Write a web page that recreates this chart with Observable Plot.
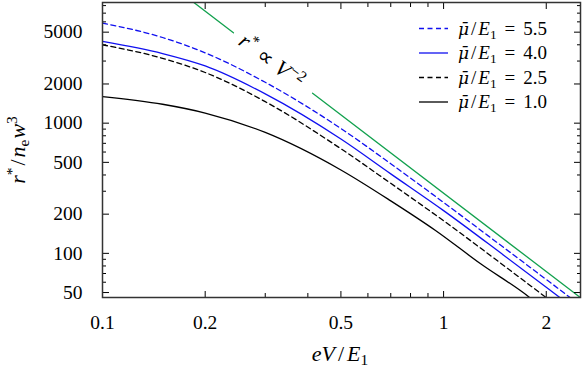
<!DOCTYPE html>
<html><head><meta charset="utf-8">
<script src="https://cdn.jsdelivr.net/npm/d3@7"></script>
<script src="https://cdn.jsdelivr.net/npm/@observablehq/plot@0.6"></script>
<style>body{margin:0;background:#fff}</style>
</head><body><div id="chart"></div>
<script>
// ---- data ----
const seriesNames = ["5.5", "4.0", "2.5", "1.0"];
const x55 = [0.1, 0.15, 0.2, 0.3, 0.5, 0.7, 1.0, 1.5, 2.0, 2.52];
const y55 = [5870, 4550, 3470, 2060, 910, 488, 246, 111, 63, 39.8];
const x40 = [0.1, 0.15, 0.2, 0.3, 0.5, 0.7, 1.0, 1.5, 2.0, 2.52];
const y40 = [4242, 3424, 2750, 1678, 755, 408, 213, 96.8, 54.9, 34.7];
const x25 = [0.1, 0.15, 0.2, 0.3, 0.5, 0.7, 1.0, 1.5, 2.0, 2.52];
const y25 = [4000, 3147, 2450, 1463, 636, 345, 178, 80.7, 45.7, 28.9];
const x10 = [0.1, 0.15, 0.2, 0.3, 0.5, 0.7, 0.947, 1.284, 1.787, 2.0];
const y10 = [1600, 1397, 1196, 849, 437, 253, 149.8, 83.1, 45.8, 35.8];
// r* ∝ V^-2 guide line (two pieces, gap for the label)
const guideX = [0.15, 0.242, 0.413, 2.6];
const guideY = [12900, 4950, 1700, 42.9];
const guideSeg = [1, 1, 2, 2];
const guideLabelX = 0.315, guideLabelY = 3000;
// ticks
const xMajor = [0.1, 0.2, 0.5, 1, 2];
const xMinor = [0.3, 0.4, 0.6, 0.7, 0.8, 0.9];
const yMajor = [50, 100, 200, 500, 1000, 2000, 5000];
const yMinor = [60, 70, 80, 90, 300, 400, 600, 700, 800, 900, 3000, 4000, 6000, 7000, 8000];

const styles = {
  "5.5": {stroke: "#1010f0", dash: "5,3.5"},
  "4.0": {stroke: "#1010f0", dash: null},
  "2.5": {stroke: "#000", dash: "5,3.5"},
  "1.0": {stroke: "#000", dash: null}
};
const xs = {"5.5": x55, "4.0": x40, "2.5": x25, "1.0": x10};
const ys = {"5.5": y55, "4.0": y40, "2.5": y25, "1.0": y10};
const green = "#12a14e";

const lineMarks = seriesNames.map(n => Plot.line(
  xs[n].map((x, i) => ({x, y: ys[n][i]})),
  {x: "x", y: "y", stroke: styles[n].stroke, strokeDasharray: styles[n].dash,
   strokeWidth: 1.3, curve: "monotone-x", clip: true}));

const guide = guideX.map((x, i) => ({x, y: guideY[i], s: guideSeg[i]}));

const font = "'Liberation Serif', 'Times New Roman', serif";
const plot = Plot.plot({
  width: 582, height: 370,
  marginLeft: 102, marginRight: 2, marginTop: 2, marginBottom: 73,
  x: {type: "log", domain: [0.1, 2.52], axis: null, label: null},
  y: {type: "log", domain: [45.8, 8450], axis: null, label: null},
  style: {fontFamily: font, fontSize: "19px", color: "black", background: "white"},
  marks: [
    Plot.line(guide, {x: "x", y: "y", z: "s", stroke: green, strokeWidth: 1.3, clip: true}),
    ...lineMarks,
    Plot.axisY(yMajor, {anchor: "left", tickSize: -7, tickFormat: () => "", label: null}),
    Plot.axisY(yMinor, {anchor: "left", tickSize: -4, tickFormat: () => "", label: null}),
    Plot.axisY(yMajor, {anchor: "right", tickSize: -7, tickFormat: () => "", label: null}),
    Plot.axisY(yMinor, {anchor: "right", tickSize: -4, tickFormat: () => "", label: null}),
    Plot.axisX(xMajor, {anchor: "bottom", tickSize: -6, tickFormat: () => "", label: null}),
    Plot.axisX(xMinor, {anchor: "bottom", tickSize: -4, tickFormat: () => "", label: null}),
    Plot.axisX(xMajor, {anchor: "top", tickSize: -6, tickFormat: () => "", label: null}),
    Plot.axisX(xMinor, {anchor: "top", tickSize: -4, tickFormat: () => "", label: null}),
    Plot.text(yMajor, {y: d => d, text: d => String(d), frameAnchor: "left", textAnchor: "end", dx: -20, fontSize: 19.5}),
    Plot.text(xMajor, {x: d => d, text: d => String(d), frameAnchor: "bottom", lineAnchor: "middle", dy: 25, fontSize: 19.5}),
    Plot.frame({stroke: "#333", strokeWidth: 1.5})
  ]
});
document.getElementById("chart").appendChild(plot);

// ---- rich text helper ----
function rich(sel, parts, size) {
  let cur = 0;
  parts.forEach(p => {
    const t = sel.append("tspan").text(p.t);
    if (p.i) t.attr("font-style", "italic");
    const target = p.s || 0;
    if (target !== cur) { t.attr("dy", target - cur); cur = target; }
    if (p.f) t.attr("font-size", p.f);
    else if (p.s) t.attr("font-size", size * 0.7);
    if (p.dx) t.attr("dx", p.dx);
    if (p.ff) t.attr("data-ff", p.ff);
  });
}
const svg = d3.select(plot);
const sx = plot.scale("x"), sy = plot.scale("y");

// guide label
const gl = svg.append("text")
  .attr("transform", `translate(${sx.apply(guideLabelX)},${sy.apply(guideLabelY)}) rotate(37)`)
  .attr("text-anchor", "middle").attr("dy", "0.35em")
  .attr("font-size", 22);
rich(gl, [{t: "r", i: 1}, {t: "*", s: -8}, {t: "∝", dx: 6}, {t: "V", i: 1, dx: 6}, {t: "−2", s: -8, dx: 1}], 22);

// y label
const yl = svg.append("text")
  .attr("transform", "translate(25,150) rotate(-90)")
  .attr("text-anchor", "middle").attr("font-size", 22);
rich(yl, [{t: "r", i: 1}, {t: "*", s: -8}, {t: "/", dx: 2}, {t: "n", i: 1, dx: 2}, {t: "e", s: 4}, {t: "w", i: 1, dx: 1}, {t: "3", s: -8}], 22);

// x label
const xl = svg.append("text")
  .attr("x", 340).attr("y", 361)
  .attr("text-anchor", "middle").attr("font-size", 22);
rich(xl, [{t: "eV", i: 1}, {t: "/", dx: 3}, {t: "E", i: 1, dx: 3}, {t: "1", s: 4}], 22);

// legend
seriesNames.forEach((n, i) => {
  const cy = 28.5 + i * 24.5;
  svg.append("line").attr("x1", 419).attr("x2", 448).attr("y1", cy).attr("y2", cy)
    .attr("stroke", styles[n].stroke).attr("stroke-width", 1.3)
    .attr("stroke-dasharray", styles[n].dash);
  const t = svg.append("text").attr("x", 458).attr("y", cy + 6)
    .attr("text-anchor", "start").attr("font-size", 19);
  rich(t, [{t: "μ\u0304", i: 1, f: 17, ff: "'DejaVu Serif', serif"}, {t: "/", dx: 2}, {t: "E", i: 1, dx: 2}, {t: "1", s: 4}, {t: "=", dx: 8}, {t: n, dx: 8}], 19);
});
svg.selectAll("text").style("font-family", font);
svg.selectAll("tspan[data-ff]").each(function () { this.style.fontFamily = this.getAttribute("data-ff"); });
</script>
</body></html>
